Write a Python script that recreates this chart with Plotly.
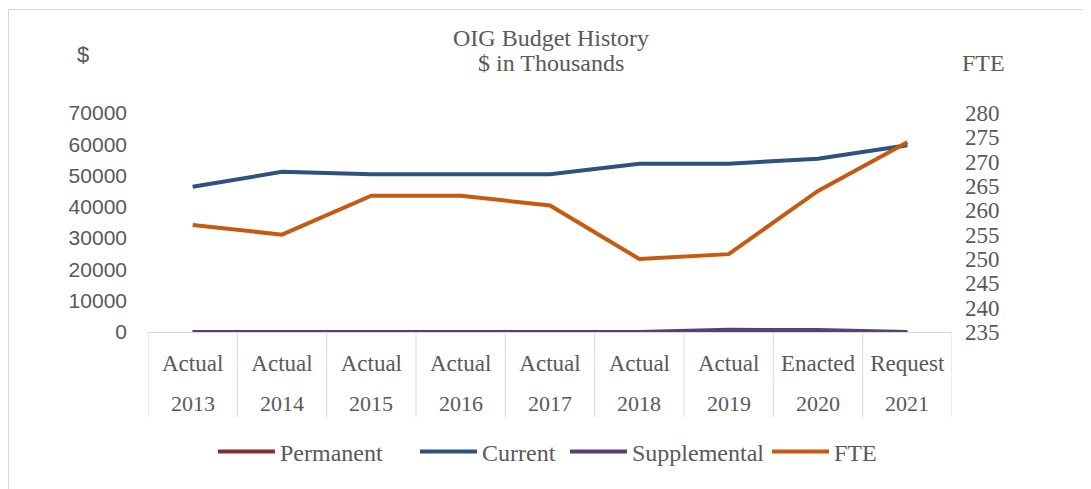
import plotly.graph_objects as go

years = ["2013", "2014", "2015", "2016", "2017", "2018", "2019", "2020", "2021"]
stages = ["Actual", "Actual", "Actual", "Actual", "Actual", "Actual", "Actual", "Enacted", "Request"]

permanent = [0, 0, 0, 0, 0, 0, 0, 0, 0]
current = [46400, 51200, 50400, 50400, 50400, 53800, 53800, 55400, 59700]
supplemental = [0, 0, 0, 0, 0, 0, 700, 600, 0]
fte = [257, 255, 263, 263, 261, 250, 251, 264, 274]

y_left_ticks = [0, 10000, 20000, 30000, 40000, 50000, 60000, 70000]
y_right_ticks = [235, 240, 245, 250, 255, 260, 265, 270, 275, 280]

colors = {"Permanent": "#8C2D2D", "Current": "#2E5180", "Supplemental": "#5B3F72", "FTE": "#C55A11"}
GRAY = "#595959"
DIV = "#D9D9D9"
SERIF = "Liberation Serif"
SANS = "Liberation Sans"

W, H = 1091, 489
OFF = 8  # page body margin
# plot area in screen pixels
SL, SR, ST, SB = 148, 952, 112.5, 332.5


def px(xs):
    return (xs - SL) / (SR - SL)


def py(ys):
    return (SB - ys) / (SB - ST)


fig = go.Figure()
series = [("Permanent", permanent, "y", "legend"),
          ("Current", current, "y", "legend2"),
          ("Supplemental", supplemental, "y", "legend3"),
          ("FTE", fte, "y2", "legend4")]
for name, vals, yax, leg in series:
    fig.add_trace(go.Scatter(x=years, y=vals, name=name, mode="lines", yaxis=yax,
                             legend=leg, line=dict(color=colors[name], width=4)))

legend_starts = [218, 420, 570, 772]
leg_common = dict(orientation="h", yanchor="middle", y=py(453), xanchor="left",
                  font=dict(family=SERIF, size=24, color=GRAY), itemwidth=57,
                  bgcolor="rgba(0,0,0,0)", borderwidth=0)
legends = {}
for i, key in enumerate(["legend", "legend2", "legend3", "legend4"]):
    legends[key] = dict(leg_common, x=px(legend_starts[i] - 5))

fig.update_layout(
    width=W, height=H,
    margin=dict(l=SL - OFF, r=W - (SR - OFF), t=ST - OFF, b=H - (SB - OFF), pad=0),
    paper_bgcolor="white", plot_bgcolor="white",
    showlegend=True,
    xaxis=dict(type="category", range=[-0.5, len(years) - 0.5],
               tickvals=years, ticktext=stages,
               showline=True, linecolor=DIV, linewidth=1,
               showgrid=False, zeroline=False, ticks="", ticklabelstandoff=10,
               tickfont=dict(family=SERIF, size=23, color=GRAY)),
    yaxis=dict(range=[0, 70000], tickvals=y_left_ticks, tickformat="d",
               showgrid=False, zeroline=False,
               showline=False, ticks="", ticklabelstandoff=20,
               tickfont=dict(family=SANS, size=21, color=GRAY)),
    yaxis2=dict(range=[235, 280], tickvals=y_right_ticks, overlaying="y", side="right",
                showgrid=False, zeroline=False, showline=False, ticks="",
                ticklabelstandoff=12,
                tickfont=dict(family=SERIF, size=23, color=GRAY)),
    **legends,
)

# second row of category labels (years), placed by category index
for i, yr in enumerate(years):
    fig.add_annotation(text=yr, x=i, xref="x", y=py(404), yref="paper",
                       showarrow=False, xanchor="center", yanchor="middle",
                       font=dict(family=SERIF, size=22, color=GRAY))

# category dividers (boundaries between categories)
for i in range(len(years) + 1):
    fig.add_shape(type="line", xref="x", yref="paper", x0=i - 0.5, x1=i - 0.5,
                  y0=py(418), y1=py(SB), line=dict(color=DIV, width=1), layer="below")

fig.add_annotation(text="OIG Budget History", x=px(551), y=py(37), xref="paper", yref="paper",
                   showarrow=False, font=dict(family=SERIF, size=24, color=GRAY),
                   xanchor="center", yanchor="middle")
fig.add_annotation(text="$ in Thousands", x=px(551), y=py(62), xref="paper", yref="paper",
                   showarrow=False, font=dict(family=SERIF, size=24, color=GRAY),
                   xanchor="center", yanchor="middle")
fig.add_annotation(text="$", x=px(83), y=py(54), xref="paper", yref="paper",
                   showarrow=False, font=dict(family=SANS, size=22, color=GRAY),
                   xanchor="center", yanchor="middle")
fig.add_annotation(text="FTE", x=px(983), y=py(62), xref="paper", yref="paper",
                   showarrow=False, font=dict(family=SERIF, size=24, color=GRAY),
                   xanchor="center", yanchor="middle")

# outer chart frame
fig.add_shape(type="rect", xref="paper", yref="paper",
              x0=px(OFF + 0.5), x1=px(W + 60), y0=py(H + 60), y1=py(OFF + 0.5),
              line=dict(color=DIV, width=1), fillcolor="rgba(0,0,0,0)", layer="below")

fig.write_html("out.html")
